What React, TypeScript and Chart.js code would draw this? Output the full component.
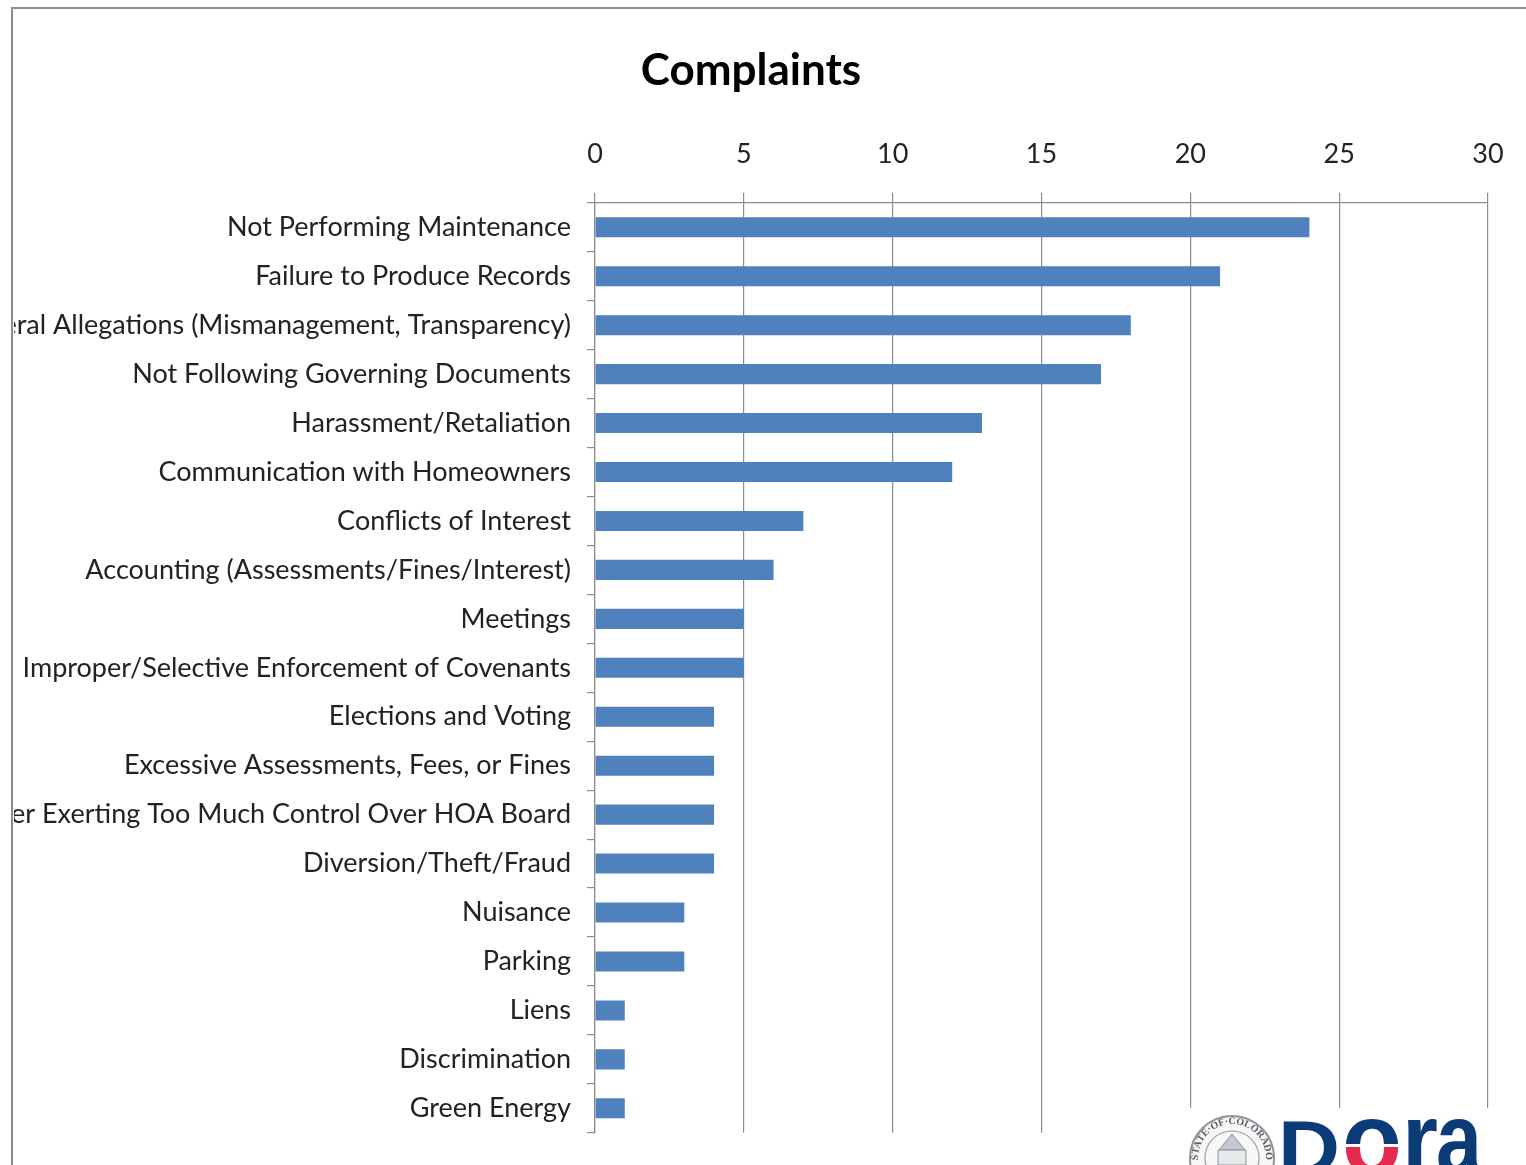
import React, { useEffect, useRef } from "react";
import { Chart, registerables } from "chart.js";

Chart.register(...registerables);

const categories = [
  "Not Performing Maintenance",
  "Failure to Produce Records",
  "General Allegations (Mismanagement, Transparency)",
  "Not Following Governing Documents",
  "Harassment/Retaliation",
  "Communication with Homeowners",
  "Conflicts of Interest",
  "Accounting (Assessments/Fines/Interest)",
  "Meetings",
  "Improper/Selective Enforcement of Covenants",
  "Elections and Voting",
  "Excessive Assessments, Fees, or Fines",
  "Manager Exerting Too Much Control Over HOA Board",
  "Diversion/Theft/Fraud",
  "Nuisance",
  "Parking",
  "Liens",
  "Discrimination",
  "Green Energy",
];
const complaints = [24, 21, 18, 17, 13, 12, 7, 6, 5, 5, 4, 4, 4, 4, 3, 3, 1, 1, 1];
const chartTitle = "Complaints";

const FONT = 'Lato, "Open Sans", sans-serif';
const GRID = "#8c8c8c";

export default function App() {
  const ref = useRef<HTMLCanvasElement | null>(null);

  useEffect(() => {
    const canvas = ref.current as HTMLCanvasElement;
    const ctx = canvas.getContext("2d") as any;
    ctx.letterSpacing = "-0.35px";
    const chart = new Chart(canvas, {
      type: "bar",
      data: {
        labels: categories,
        datasets: [
          {
            label: chartTitle,
            data: complaints,
            backgroundColor: "#4f81bd",
            barPercentage: 0.41,
            categoryPercentage: 1,
          },
        ],
      },
      options: {
        indexAxis: "y",
        animation: false,
        responsive: false,
        layout: { padding: { left: 14, right: 38, top: 0, bottom: 25 } },
        plugins: {
          legend: { display: false },
          tooltip: { enabled: false },
          title: {
            display: true,
            text: chartTitle,
            color: "#000000",
            font: { family: FONT, size: 44, weight: "bold", lineHeight: 1.2 },
            padding: { top: 44, bottom: 0 },
          },
        },
        scales: {
          x: {
            position: "top",
            min: 0,
            max: 30,
            ticks: {
              stepSize: 5,
              color: "#222222",
              font: { family: FONT, size: 27 },
              padding: 22,
              maxRotation: 0,
            },
            grid: { color: GRID, lineWidth: 1.2, tickLength: 10 },
            border: { color: GRID, width: 1.2 },
            afterFit: (s: any) => {
              s.height = 106;
            },
          },
          y: {
            ticks: {
              autoSkip: false,
              color: "#222222",
              font: { family: FONT, size: 27 },
              padding: 16,
            },
            grid: {
              offset: true,
              drawOnChartArea: false,
              color: GRID,
              lineWidth: 1.2,
              tickLength: 8,
            },
            border: { color: GRID, width: 1.2 },
            afterFit: (s: any) => {
              s.width = 581;
            },
          },
        },
      },
    } as any);
    return () => chart.destroy();
  }, []);

  return (
    <div style={{ position: "fixed", left: 0, top: 0, width: 1526, height: 1165, overflow: "hidden", background: "#fff" }}>
      <canvas ref={ref} width={1526} height={1165} style={{ position: "absolute", left: 0, top: 0, display: "block" }} />
      <div style={{ position: "absolute", left: 11, top: 7, width: 1600, height: 1300, border: "2.5px solid #8c8c8c", boxSizing: "border-box" }} />
      <svg width={1526} height={1165} style={{ position: "absolute", left: 0, top: 0 }}>
        <defs>
          <path id="sealArc" d="M 1198 1158 A 34 34 0 0 1 1266 1158" />
          <clipPath id="oTop"><rect x={1340} y={1100} width={64} height={44} /></clipPath>
          <clipPath id="oBottom"><rect x={1340} y={1147} width={64} height={30} /></clipPath>
        </defs>
        <rect x={1150} y={1108} width={376} height={57} fill="#ffffff" />
        <circle cx={1232} cy={1158} r={42} fill="#f7f7f7" stroke="#8d9499" strokeWidth={2} />
        <circle cx={1232} cy={1158} r={27} fill="none" stroke="#9aa0a5" strokeWidth={1.2} />
        <text fontFamily="Liberation Serif, serif" fontSize={10} fontWeight="bold" fill="#555c63">
          <textPath href="#sealArc" startOffset="50%" textAnchor="middle">STATE·OF·COLORADO</textPath>
        </text>
        <path d="M1232 1134 L1219 1150 L1245 1150 Z" fill="#c3c9d0" stroke="#8d9499" />
        <path d="M1218 1150 H1246 V1165 H1218 Z" fill="#e6e8ea" stroke="#8d9499" />
        <g fontFamily="Liberation Sans, sans-serif" fontWeight="bold" fill="#0c3c78">
          <text x={1278} y={1174} fontSize={76} textLength={62} lengthAdjust="spacingAndGlyphs">D</text>
          <g clipPath="url(#oTop)">
            <text x={1342} y={1174} fontSize={102} textLength={60} lengthAdjust="spacingAndGlyphs">o</text>
          </g>
          <g clipPath="url(#oBottom)">
            <text x={1342} y={1174} fontSize={102} textLength={60} lengthAdjust="spacingAndGlyphs" fill="#e8294f">o</text>
          </g>
          <text x={1402} y={1174} fontSize={102} textLength={36} lengthAdjust="spacingAndGlyphs">r</text>
          <text x={1436} y={1174} fontSize={102} textLength={46} lengthAdjust="spacingAndGlyphs">a</text>
        </g>
      </svg>
    </div>
  );
}
